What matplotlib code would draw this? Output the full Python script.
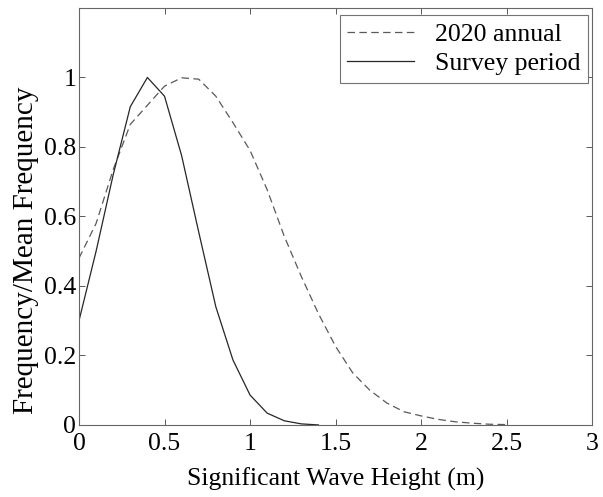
import matplotlib
matplotlib.use("Agg")
import matplotlib.pyplot as plt
from matplotlib.ticker import FuncFormatter, MultipleLocator

# Wave height bins (m)
hs_annual = [0.0, 0.1, 0.2, 0.3, 0.4, 0.5, 0.6, 0.7, 0.8, 0.9, 1.0, 1.1, 1.2, 1.3,
             1.4, 1.5, 1.6, 1.7, 1.8, 1.9, 2.0, 2.1, 2.2, 2.3, 2.4, 2.5]
freq_annual = [0.48, 0.58, 0.735, 0.865, 0.92, 0.975, 0.999, 0.995, 0.946, 0.87,
               0.79, 0.677, 0.543, 0.427, 0.32, 0.226, 0.15, 0.10, 0.063, 0.038,
               0.026, 0.016, 0.009, 0.005, 0.002, 0.001]

hs_survey = [0.0, 0.1, 0.2, 0.3, 0.4, 0.5, 0.6, 0.7, 0.8, 0.9, 1.0, 1.1, 1.2, 1.3, 1.4]
freq_survey = [0.30, 0.50, 0.72, 0.916, 1.0, 0.946, 0.775, 0.555, 0.34, 0.187,
               0.086, 0.034, 0.012, 0.003, 0.0]

FS = 18.5

plt.rcParams['font.family'] = ['Liberation Serif', 'DejaVu Serif']
plt.rcParams['font.size'] = FS

fig = plt.figure(figsize=(6.03, 4.97), dpi=100)
ax = fig.add_axes([0.131, 0.145, 0.851, 0.839])

ax.plot(hs_annual, freq_annual, color='0.35', linestyle=(0, (6, 3.5)), linewidth=0.9,
        label='2020 annual')
ax.plot(hs_survey, freq_survey, color='0.15', linestyle='-', linewidth=0.9,
        label='Survey period')

ax.set_xlim(0, 3)
ax.set_ylim(0, 1.2)
ax.xaxis.set_major_locator(MultipleLocator(0.5))
ax.set_yticks([0, 0.2, 0.4, 0.6, 0.8, 1.0])
fmt = FuncFormatter(lambda v, pos: f'{v:g}')
ax.xaxis.set_major_formatter(fmt)
ax.yaxis.set_major_formatter(fmt)
ax.tick_params(direction='in', top=True, right=True, length=4, width=0.7,
               color='0.35', labelsize=FS)
ax.tick_params(axis='x', pad=6)
ax.tick_params(axis='y', pad=2)

for sp in ax.spines.values():
    sp.set_color('0.4')
    sp.set_linewidth(0.8)

ax.set_xlabel('Significant Wave Height (m)', fontsize=FS, labelpad=9)
ax.set_ylabel('Frequency/Mean Frequency', fontsize=21)
ax.yaxis.set_label_coords(-0.078, 0.42)

leg = ax.legend(loc='upper right', bbox_to_anchor=(0.975, 0.970),
                bbox_transform=fig.transFigure, fontsize=FS, fancybox=False,
                framealpha=1, edgecolor='0.45', borderaxespad=0,
                handlelength=2.6, handletextpad=0.8, labelspacing=0.26,
                borderpad=0.3)
leg.get_frame().set_linewidth(0.8)

fig.savefig('out.png', dpi=100)
